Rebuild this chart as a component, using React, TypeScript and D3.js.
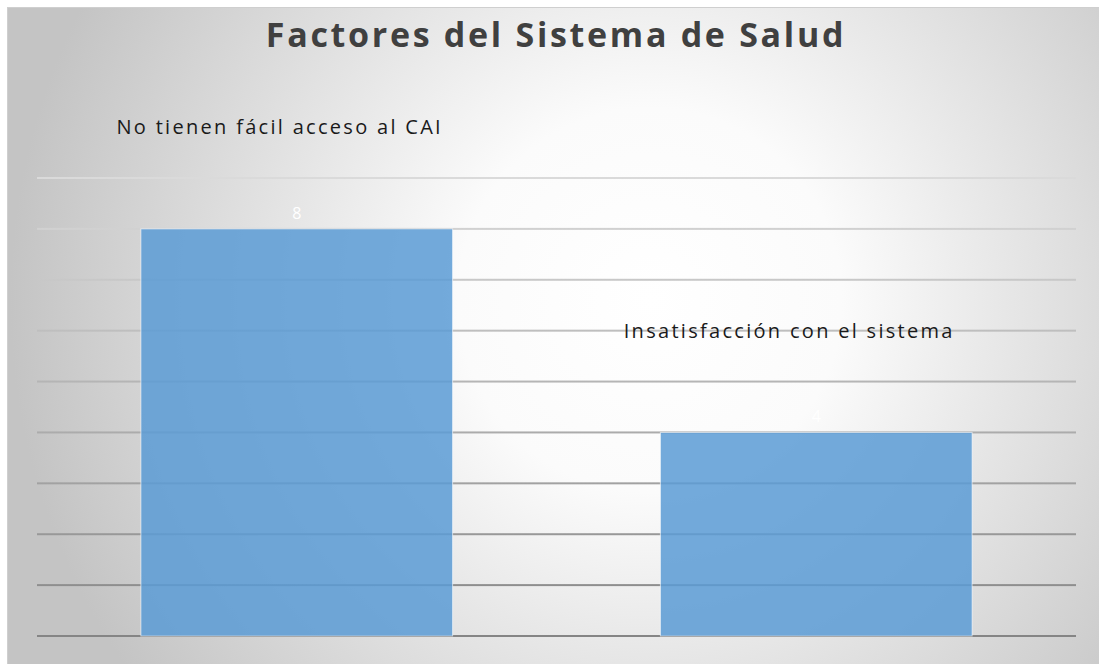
import React from "react";
import * as d3 from "d3";

const categories = ["No tienen fácil acceso al CAI", "Insatisfacción con el sistema"];
const values = [8, 4];
const yTicks = [0, 1, 2, 3, 4, 5, 6, 7, 8, 9];
const title = "Factores del Sistema de Salud";

export default function App() {
  const left = 37, right = 1076, top = 178, bottom = 636;
  const x = d3.scaleBand<string>().domain(categories).range([left, right]).paddingInner(0.4).paddingOuter(0.2);
  const y = d3.scaleLinear().domain([0, 9]).range([bottom, top]);
  const bw = x.bandwidth();
  const labelShift = [-17, -27];

  return (
    <div style={{ position: "absolute", left: 7, top: 7 }}>
      <svg width={1092} height={657} viewBox="7 7 1092 657" style={{ display: "block" }}>
        <defs>
          <radialGradient id="bg" cx="650" cy="300" r="640" gradientUnits="userSpaceOnUse">
            <stop offset="0" stopColor="#ffffff" />
            <stop offset="0.3" stopColor="#fbfbfb" />
            <stop offset="1" stopColor="#c4c4c4" />
          </radialGradient>
          <linearGradient id="grid" x1="0" y1={top} x2="0" y2={bottom} gradientUnits="userSpaceOnUse">
            <stop offset="0" stopColor="#dadada" />
            <stop offset="0.35" stopColor="#bdbdbd" />
            <stop offset="1" stopColor="#858585" />
          </linearGradient>
        </defs>
        <rect x={7} y={7} width={1092} height={657} fill="url(#bg)" />
        <line x1={7} x2={1099} y1={7.5} y2={7.5} stroke="#cfcfcf" />
        <line x1={7.5} x2={7.5} y1={7} y2={664} stroke="#cfcfcf" />
        <text
          x={556}
          y={47}
          textAnchor="middle"
          fontFamily="'Open Sans', 'Noto Sans', sans-serif"
          fontWeight={700}
          fontSize={34}
          letterSpacing={2.7}
          fill="#404040"
        >
          {title}
        </text>
        {yTicks.map((t) => (
          <rect key={t} x={left} y={y(t) - 1} width={right - left} height={2} fill="url(#grid)" />
        ))}
        {categories.map((c, i) => (
          <g key={c}>
            <rect
              x={x(c)!}
              y={y(values[i])}
              width={bw}
              height={bottom - y(values[i])}
              fill="#5b9bd5"
              fillOpacity={0.85}
              stroke="#ffffff"
              strokeOpacity={0.6}
              strokeWidth={1}
            />
            <text
              x={x(c)! + bw / 2}
              y={y(values[i]) - 10}
              textAnchor="middle"
              fontFamily="'Open Sans', sans-serif"
              fontSize={16}
              fill="#ffffff"
            >
              {values[i]}
            </text>
            <text
              x={x(c)! + bw / 2 + labelShift[i]}
              y={y(values[i] + 1.86)}
              textAnchor="middle"
              fontFamily="'Open Sans', sans-serif"
              fontSize={20}
              letterSpacing={2.3}
              fill="#1a1a1a"
            >
              {c}
            </text>
          </g>
        ))}
      </svg>
    </div>
  );
}
